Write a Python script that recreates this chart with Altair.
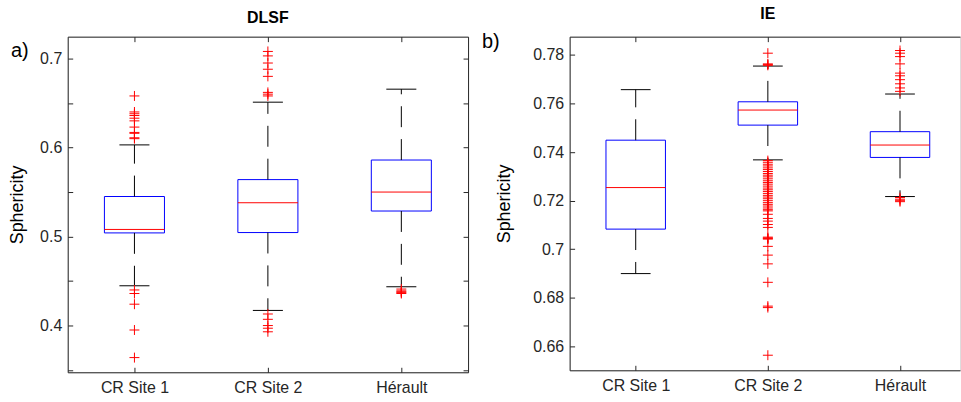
import json
import altair as alt
import pandas as pd

CATS = ["CR Site 1", "CR Site 2", "Hérault"]
POS = [1, 2, 3]

# ---- DLSF panel (a) ----
DLSF_Q1 = [0.5041, 0.5045, 0.5287]
DLSF_MED = [0.5080, 0.5380, 0.5500]
DLSF_Q3 = [0.5450, 0.5640, 0.5860]
DLSF_WLO = [0.4447, 0.4170, 0.4436]
DLSF_WHI = [0.6030, 0.6510, 0.6656]
DLSF_OUT_CR1 = [0.658, 0.640, 0.638, 0.636, 0.633, 0.630, 0.623, 0.617, 0.616, 0.611, 0.610,
                0.440, 0.436, 0.424, 0.395, 0.364]
DLSF_OUT_CR2 = [0.708, 0.703, 0.695, 0.688, 0.680, 0.662, 0.660, 0.658,
                0.413, 0.407, 0.400, 0.397, 0.393]
DLSF_OUT_HER = [0.441, 0.439, 0.438, 0.437, 0.436]
DLSF_YTICKS = [0.35, 0.40, 0.45, 0.50, 0.55, 0.60, 0.65, 0.70]

# ---- IE panel (b) ----
IE_Q1 = [0.7083, 0.7511, 0.7378]
IE_MED = [0.7254, 0.7573, 0.7429]
IE_Q3 = [0.7449, 0.7607, 0.7484]
IE_WLO = [0.6900, 0.7368, 0.7217]
IE_WHI = [0.7657, 0.7754, 0.7639]
IE_OUT_CR1 = []
IE_OUT_CR2 = [0.7807, 0.7763, 0.7760, 0.7757,
              0.7365, 0.7358, 0.7350, 0.7343, 0.7335, 0.7328, 0.7320, 0.7312, 0.7305,
              0.7298, 0.7290, 0.7282, 0.7275, 0.7268, 0.7260, 0.7252, 0.7245, 0.7238,
              0.7230, 0.7222, 0.7215, 0.7208, 0.7200, 0.7192, 0.7185, 0.7178, 0.7170,
              0.7163, 0.7158, 0.7144, 0.7127, 0.7116, 0.7102, 0.7090, 0.7050, 0.7047,
              0.7044, 0.7042, 0.7012, 0.6976, 0.6940, 0.6864, 0.6766, 0.6760, 0.6564]
IE_OUT_HER = [0.7818, 0.7807, 0.7793, 0.7763, 0.7725, 0.7714, 0.7698, 0.7681, 0.7664,
              0.7650, 0.7213, 0.7206, 0.7200, 0.7196]
IE_YTICKS = [0.66, 0.68, 0.70, 0.72, 0.74, 0.76, 0.78]

FONT = "Liberation Sans"
AX = "#262626"
BLUE = "#0000ff"
RED = "#ff0000"
PLUS = "M-1,0H1M0,-1V1"


def panel(title, tag, q1, med, q3, wlo, whi, outs, ydomain, yvals, ylabel_expr,
          W, H, xmax, right_edge, title_dx, tag_x, tag_y, ytitle_pad):
    box = pd.DataFrame(dict(pos=POS, cat=CATS, q1=q1, med=med, q3=q3, wlo=wlo, whi=whi))
    out = pd.DataFrame([(p, v) for p, vals in zip(POS, outs) for v in vals],
                       columns=["pos", "v"])
    xs = alt.Scale(domain=[0.5, xmax], nice=False, zero=False)
    ys = alt.Scale(domain=ydomain, nice=False, zero=False)
    base = alt.Chart(box).transform_calculate(
        bl="datum.pos - 0.225", br="datum.pos + 0.225",
        cl="datum.pos - 0.1125", cr="datum.pos + 0.1125")

    x_main = alt.Axis(values=POS, labelExpr=json.dumps(CATS) + "[datum.value - 1]",
                      ticks=False, domain=True, domainColor=AX, grid=False, title=None,
                      labelFontSize=16, labelColor=AX, labelFont=FONT, labelPadding=7,
                      labelAngle=0)
    y_main = alt.Axis(values=yvals, labelExpr=ylabel_expr, ticks=False, grid=False,
                      domain=True, domainColor=AX, title="Sphericity", titleFontSize=18,
                      titleFont=FONT, titleFontWeight="normal", titleColor="black",
                      labelFontSize=16, labelColor=AX, labelFont=FONT, labelPadding=6,
                      titlePadding=ytitle_pad)
    x_bot_in = alt.Axis(orient="top", offset=-H, values=POS, labels=False, tickSize=5,
                        tickColor=AX, domain=False, grid=False, title=None)
    x_top_in = alt.Axis(orient="bottom", offset=-H, values=POS, labels=False, tickSize=5,
                        tickColor=AX, domain=True, domainColor=AX, grid=False, title=None)
    y_left_in = alt.Axis(orient="right", offset=-W, values=yvals, labels=False, tickSize=5,
                         tickColor=AX, domain=False, grid=False, title=None)
    if right_edge:
        y_right_in = alt.Axis(orient="left", offset=-W, values=yvals, labels=False,
                              tickSize=5, tickColor=AX, domain=True, domainColor=AX,
                              grid=False, title=None)
    else:
        y_right_in = None

    boxes = base.mark_rect(filled=False, stroke=BLUE, strokeWidth=1).encode(
        x=alt.X("bl:Q", scale=xs, axis=x_main), x2="br:Q",
        y=alt.Y("q1:Q", scale=ys, axis=y_main), y2="q3:Q")
    medians = base.mark_rule(color=RED, strokeWidth=1).encode(
        x=alt.X("bl:Q", scale=xs, axis=x_bot_in), x2="br:Q",
        y=alt.Y("med:Q", scale=ys, axis=y_left_in))
    wup = base.mark_rule(color="black", strokeWidth=1, strokeDash=[21, 12]).encode(
        x=alt.X("pos:Q", scale=xs, axis=x_top_in),
        y=alt.Y("q3:Q", scale=ys, axis=y_right_in), y2="whi:Q")
    wdn = base.mark_rule(color="black", strokeWidth=1, strokeDash=[21, 12]).encode(
        x=alt.X("pos:Q", scale=xs, axis=None),
        y=alt.Y("q1:Q", scale=ys, axis=None), y2="wlo:Q")
    cap_hi = base.mark_rule(color="black", strokeWidth=1).encode(
        x=alt.X("cl:Q", scale=xs, axis=None), x2="cr:Q",
        y=alt.Y("whi:Q", scale=ys, axis=None))
    cap_lo = base.mark_rule(color="black", strokeWidth=1).encode(
        x=alt.X("cl:Q", scale=xs, axis=None), x2="cr:Q",
        y=alt.Y("wlo:Q", scale=ys, axis=None))
    pts = alt.Chart(out).mark_point(shape=PLUS, filled=False, stroke=RED, strokeWidth=1,
                                    size=100, opacity=1).encode(
        x=alt.X("pos:Q", scale=xs, axis=None),
        y=alt.Y("v:Q", scale=ys, axis=None))
    tagtxt = alt.Chart(pd.DataFrame({"t": [tag]})).mark_text(
        align="left", baseline="alphabetic", fontSize=20, font=FONT, color="black").encode(
        text="t:N", x=alt.value(tag_x), y=alt.value(tag_y))

    return alt.layer(boxes, medians, wup, wdn, cap_hi, cap_lo, pts, tagtxt).resolve_axis(
        x="independent", y="independent").properties(
        width=W, height=H,
        title=alt.TitleParams(title, fontSize=16, fontWeight="bold", font=FONT,
                              color="black", frame="group", anchor="middle",
                              offset=10, dx=title_dx))


left = panel("DLSF", "a)", DLSF_Q1, DLSF_MED, DLSF_Q3, DLSF_WLO, DLSF_WHI,
             [DLSF_OUT_CR1, DLSF_OUT_CR2, DLSF_OUT_HER], [0.3475, 0.7246], DLSF_YTICKS,
             "round(datum.value * 20) % 2 == 0 ? format(datum.value, '.1f') : ''",
             402, 337, 3.5, True, 0, -57, 20, 13)
right = panel("IE", "b)", IE_Q1, IE_MED, IE_Q3, IE_WLO, IE_WHI,
              [IE_OUT_CR1, IE_OUT_CR2, IE_OUT_HER], [0.6502, 0.7875], IE_YTICKS,
              "format(datum.value, '.2~f')",
              392, 335, 3.454, False, 3, -88, 11, 19)

chart = alt.hconcat(left, right, spacing=12).configure_view(stroke=None).configure(
    padding={"left": 8, "top": 4, "right": 0, "bottom": 0}, background="white")

chart.save("out.html", embed_options={"renderer": "svg", "actions": False})
